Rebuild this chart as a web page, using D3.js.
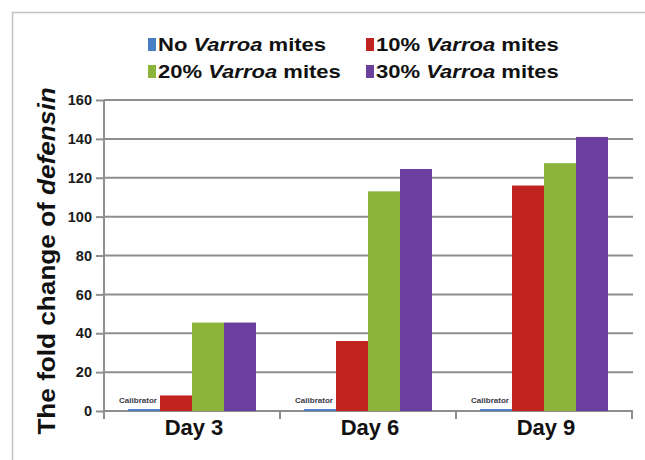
<!DOCTYPE html>
<html>
<head>
<meta charset="utf-8">
<script src="https://cdn.jsdelivr.net/npm/d3@7"></script>
<style>
  html, body { margin: 0; padding: 0; background: #fff; }
  svg { display: block; }
  text { font-family: "Liberation Sans", Arial, sans-serif; }
</style>
</head>
<body>
<script>
// ---- Data ----
const categories = ["Day 3", "Day 6", "Day 9"];
const seriesNames = ["No", "10%", "20%", "30%"];
const noMites = [1, 1, 1];
const mites10 = [8, 36, 116];
const mites20 = [45.5, 113, 127.5];
const mites30 = [45.5, 124.5, 141];
const yTicks = [0, 20, 40, 60, 80, 100, 120, 140, 160];
const calibratorLabel = "Calibrator";
const colors = ["#4a7ec4", "#c0221d", "#8cb43a", "#6a3f9e"];

const seriesValues = [noMites, mites10, mites20, mites30];

const W = 645, H = 460;
const svg = d3.select("body").append("svg").attr("width", W).attr("height", H);

// frame (clipped at right/bottom in reference)
svg.append("path")
  .attr("d", `M12.5,${H} L12.5,12.5 L${W},12.5`)
  .attr("fill", "none").attr("stroke", "#c4c4c4").attr("stroke-width", 1.5);

const plot = { left: 104, right: 632, top: 100, bottom: 411 };

const x0 = d3.scaleBand().domain(categories).range([plot.left, plot.right]).padding(0);
const x1 = d3.scaleBand().domain(seriesNames).range([24, x0.bandwidth() - 24]).padding(0);
const y = d3.scaleLinear().domain([0, 160]).range([plot.bottom, plot.top]);

// gridlines
svg.append("g").selectAll("line").data(yTicks.filter(d => d > 0)).join("line")
  .attr("x1", plot.left).attr("x2", plot.right + 1)
  .attr("y1", d => y(d)).attr("y2", d => y(d))
  .attr("stroke", "#8e8e8e").attr("stroke-width", 2);

// y axis
const yAxis = svg.append("g").attr("transform", `translate(${plot.left},0)`)
  .call(d3.axisLeft(y).tickValues(yTicks).tickSize(8).tickPadding(4).tickFormat(d3.format("d")));
yAxis.select(".domain").attr("stroke", "#8e8e8e").attr("stroke-width", 2)
  .attr("d", `M0,${plot.top}V${plot.bottom + 1}`);
yAxis.selectAll(".tick line").attr("stroke", "#8e8e8e").attr("stroke-width", 2);
yAxis.selectAll(".tick text").attr("font-size", 14.5).attr("font-weight", "bold")
  .attr("fill", "#1a1a1a").style("font-family", '"Liberation Sans", Arial, sans-serif');

// x axis
const xAxis = svg.append("g").attr("transform", `translate(0,${plot.bottom})`)
  .call(d3.axisBottom(x0).tickSize(0).tickPadding(0));
xAxis.select(".domain").attr("stroke", "#8e8e8e").attr("stroke-width", 2)
  .attr("d", `M${plot.left},0H${plot.right + 1}`);
xAxis.selectAll(".tick text").attr("y", 24).attr("dy", null).attr("dx", 2)
  .attr("font-size", 22).attr("font-weight", "bold").attr("fill", "#111")
  .style("font-family", '"Liberation Sans", Arial, sans-serif');
const bounds = categories.map(c => x0(c)).concat([x0.range()[1]]);
xAxis.append("g").selectAll("line").data(bounds).join("line")
  .attr("x1", d => d).attr("x2", d => d).attr("y1", 0).attr("y2", 8)
  .attr("stroke", "#8e8e8e").attr("stroke-width", 2);

// bars (drawn over the axis so the calibrator bars stay visible)
const groups = svg.append("g").selectAll("g").data(categories).join("g")
  .attr("transform", c => `translate(${x0(c)},0)`);
groups.selectAll("rect")
  .data((c, i) => seriesNames.map((s, j) => ({ s, j, v: seriesValues[j][i] })))
  .join("rect")
  .attr("x", d => x1(d.s))
  .attr("width", x1.bandwidth())
  .attr("y", d => y(d.v))
  .attr("height", d => y(0) - y(d.v))
  .attr("fill", d => colors[d.j]);

// calibrator labels
groups.append("text")
  .attr("x", x1(seriesNames[0]) + x1.bandwidth() / 2 - 6)
  .attr("y", (c, i) => y(noMites[i]) - 6)
  .attr("text-anchor", "middle")
  .attr("font-size", 8).attr("font-weight", "bold").attr("fill", "#3a3a48")
  .text(calibratorLabel);

// y title
const yt = svg.append("text")
  .attr("transform", "translate(55,261) rotate(-90) scale(1.09,1)")
  .attr("text-anchor", "middle").attr("font-size", 24).attr("font-weight", "bold").attr("fill", "#111");
yt.append("tspan").text("The fold change of ");
yt.append("tspan").attr("font-style", "italic").text("defensin");

// legend
const legendPos = [
  { x: 148, y: 51 }, { x: 366, y: 51 },
  { x: 148, y: 78 }, { x: 366, y: 78 }
];
const lg = svg.append("g").selectAll("g").data(seriesNames).join("g")
  .attr("transform", (d, i) => `translate(${legendPos[i].x},${legendPos[i].y})`);
lg.append("rect").attr("x", 0).attr("y", -13).attr("width", 8).attr("height", 13)
  .attr("fill", (d, i) => colors[i]);
const lt = lg.append("text").attr("transform", "translate(10,0) scale(1.16,1)")
  .attr("font-size", 19).attr("font-weight", "bold").attr("fill", "#111");
lt.append("tspan").text(d => d + " ");
lt.append("tspan").attr("font-style", "italic").text("Varroa");
lt.append("tspan").text(" mites");
</script>
</body>
</html>
